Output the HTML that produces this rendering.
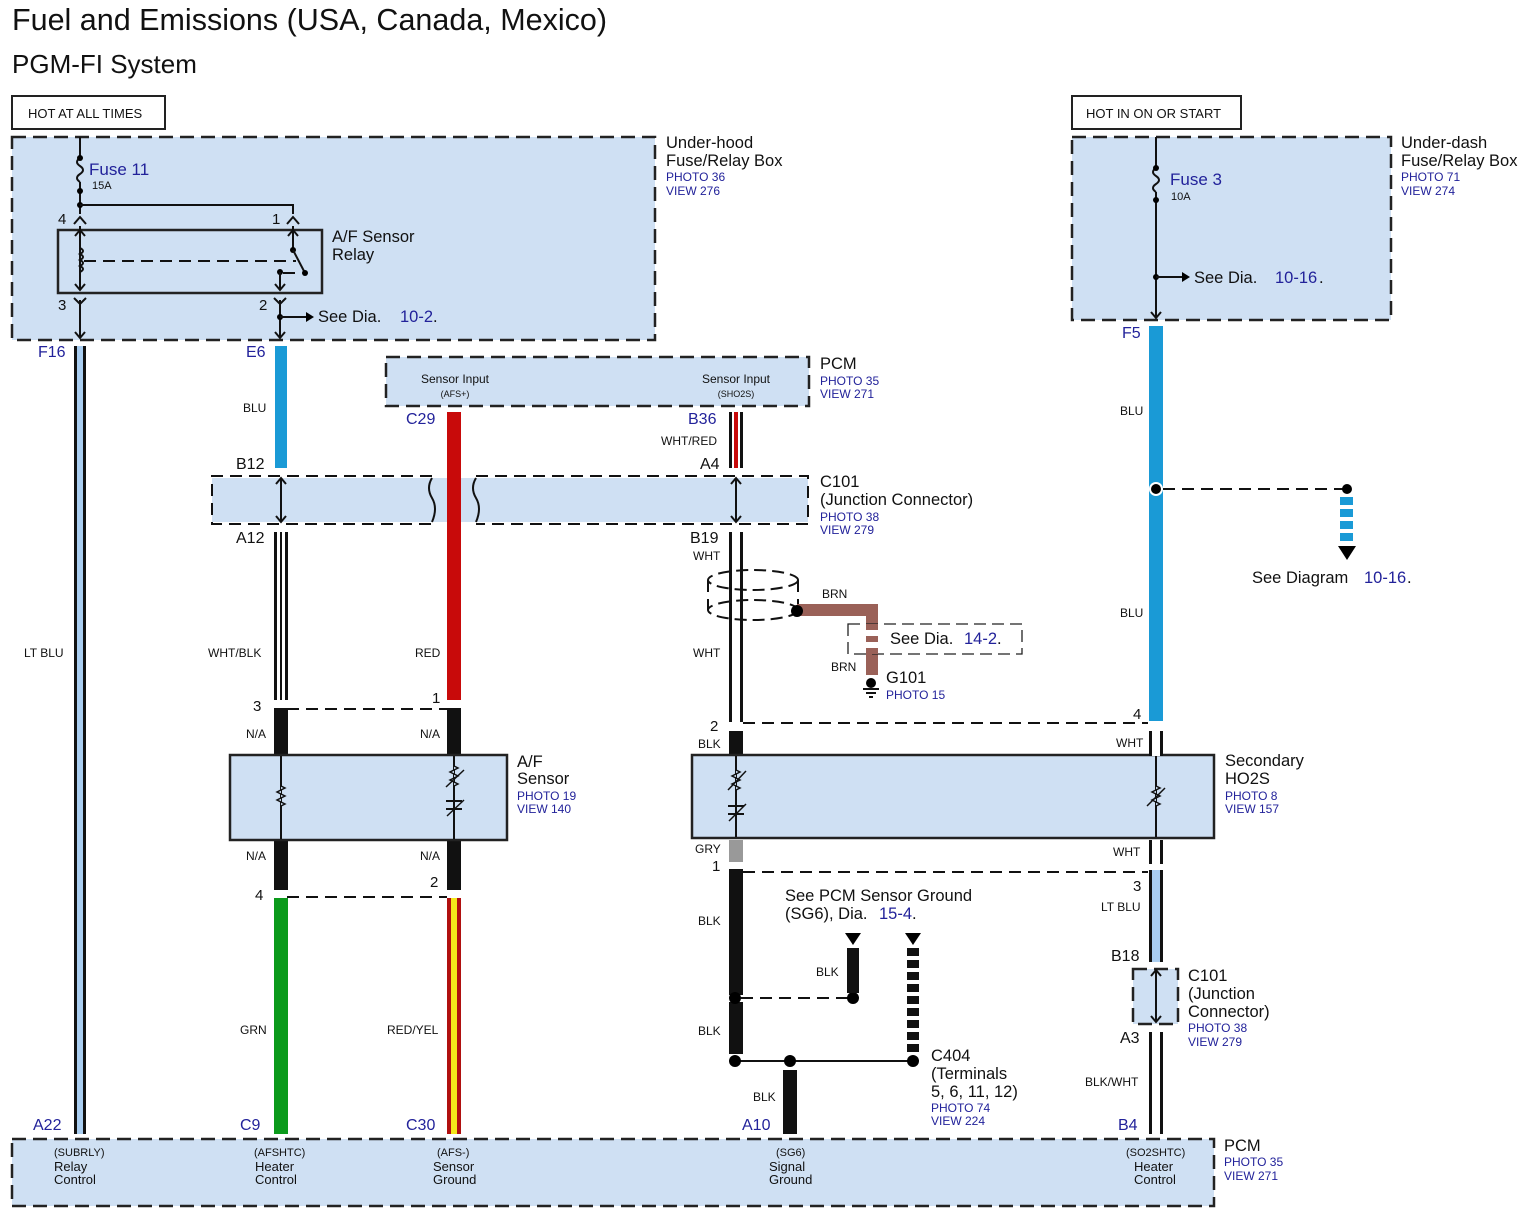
<!DOCTYPE html>
<html><head><meta charset="utf-8"><style>
html,body{margin:0;padding:0;background:#fff}
svg{display:block}
text{font-family:"Liberation Sans",Arial,sans-serif;fill:#111}
.b{fill:#22229a}
.box{fill:#cfe0f3;stroke:#222;stroke-width:2.5;stroke-dasharray:14 7}
.sbox{fill:#cfe0f3;stroke:#222;stroke-width:2.5}
.ln{stroke:#111;stroke-width:2;fill:none}
.dl{stroke:#111;stroke-width:2;fill:none;stroke-dasharray:12 7}
</style></head><body>
<svg width="1535" height="1223" viewBox="0 0 1535 1223" xmlns="http://www.w3.org/2000/svg">
<text x="12" y="30" font-size="30.5">Fuel and Emissions (USA, Canada, Mexico)</text>
<text x="12" y="73" font-size="26">PGM-FI System</text>

<rect x="12" y="96" width="153" height="33" fill="#fff" stroke="#222" stroke-width="2"/>
<text x="28" y="118" font-size="13">HOT AT ALL TIMES</text>
<rect x="1072" y="96" width="169" height="33" fill="#fff" stroke="#222" stroke-width="2"/>
<text x="1086" y="118" font-size="13">HOT IN ON OR START</text>

<rect class="box" x="12" y="137" width="643" height="203"/>
<text x="666" y="148" font-size="16.5">Under-hood</text>
<text x="666" y="166" font-size="16.5">Fuse/Relay Box</text>
<text x="666" y="181" font-size="12" class="b">PHOTO 36</text>
<text x="666" y="195" font-size="12" class="b">VIEW 276</text>
<line class="ln" x1="80" y1="137" x2="80" y2="158"/>
<path class="ln" d="M80 158 q-6 4 0 8 q6 4 0 8 q-6 4 0 8"/>
<line class="ln" x1="80" y1="182" x2="80" y2="214"/>
<circle cx="80" cy="158" r="3"/><circle cx="80" cy="191" r="3"/><circle cx="80" cy="205" r="3"/>
<text x="89" y="175" font-size="17" class="b">Fuse 11</text>
<text x="92" y="189" font-size="11">15A</text>
<polyline class="ln" points="80,205 293,205 293,214"/>
<text x="58" y="224" font-size="15">4</text><text x="272" y="224" font-size="15">1</text>
<path class="ln" d="M74 224 l6 -7 l6 7 M287 224 l6 -7 l6 7"/>
<rect x="58" y="230" width="264" height="63" fill="none" stroke="#222" stroke-width="2.5"/>
<text x="332" y="242" font-size="16.5">A/F Sensor</text><text x="332" y="260" font-size="16.5">Relay</text>
<line class="ln" x1="80" y1="226" x2="80" y2="290"/>
<path class="ln" d="M75 236 l5 -6 l5 6 M75 284 l5 6 l5 -6"/>
<path class="ln" d="M80 248 q6 3 0 6 q6 3 0 6 q6 3 0 6 q6 3 0 6"/>
<line class="dl" x1="84" y1="261" x2="296" y2="261" stroke-dasharray="9 6" stroke-width="1.3"/>
<line class="ln" x1="293" y1="226" x2="293" y2="250"/>
<path class="ln" d="M288 236 l5 -6 l5 6"/>
<circle cx="293" cy="250" r="3"/><line class="ln" x1="293" y1="250" x2="305" y2="273"/><circle cx="305" cy="273" r="3"/>
<circle cx="280" cy="272" r="3"/><line class="dl" x1="283" y1="273" x2="303" y2="273" stroke-dasharray="4 4"/>
<line class="ln" x1="280" y1="272" x2="280" y2="290"/><path class="ln" d="M275 284 l5 6 l5 -6"/>
<text x="58" y="310" font-size="15">3</text><text x="259" y="310" font-size="15">2</text>
<path class="ln" d="M74 298 l6 6 l6 -6 M274 298 l6 6 l6 -6"/>
<line class="ln" x1="80" y1="300" x2="80" y2="338"/><line class="ln" x1="280" y1="300" x2="280" y2="338"/>
<path class="ln" d="M75 332 l5 6 l5 -6 M275 332 l5 6 l5 -6"/>
<circle cx="280" cy="317" r="3"/><line class="ln" x1="280" y1="317" x2="306" y2="317"/><path d="M306 312 l8 5 l-8 5z"/>
<text x="318" y="322" font-size="16.5">See Dia.</text><text x="400" y="322" font-size="16.5" class="b">10-2</text><text x="433" y="322" font-size="16.5">.</text>

<rect class="box" x="1072" y="137" width="319" height="183"/>
<text x="1401" y="148" font-size="16.5">Under-dash</text>
<text x="1401" y="166" font-size="16.5">Fuse/Relay Box</text>
<text x="1401" y="181" font-size="12" class="b">PHOTO 71</text>
<text x="1401" y="195" font-size="12" class="b">VIEW 274</text>
<line class="ln" x1="1156" y1="137" x2="1156" y2="168"/>
<path class="ln" d="M1156 168 q-6 4 0 8 q6 4 0 8 q-6 4 0 8"/>
<line class="ln" x1="1156" y1="192" x2="1156" y2="318"/>
<circle cx="1156" cy="168" r="3"/><circle cx="1156" cy="200" r="3"/>
<text x="1170" y="185" font-size="17" class="b">Fuse 3</text><text x="1171" y="200" font-size="11">10A</text>
<circle cx="1156" cy="277" r="3"/><line class="ln" x1="1156" y1="277" x2="1182" y2="277"/><path d="M1182 272 l8 5 l-8 5z"/>
<text x="1194" y="283" font-size="16.5">See Dia.</text><text x="1275" y="283" font-size="16.5" class="b">10-16</text><text x="1319" y="283" font-size="16.5">.</text>
<path class="ln" d="M1151 312 l5 6 l5 -6"/>

<rect class="box" x="386" y="357" width="423" height="49"/>
<text x="455" y="383" font-size="12" text-anchor="middle">Sensor Input</text>
<text x="455" y="397" font-size="9" text-anchor="middle">(AFS+)</text>
<text x="736" y="383" font-size="12" text-anchor="middle">Sensor Input</text>
<text x="736" y="397" font-size="9" text-anchor="middle">(SHO2S)</text>
<text x="820" y="369" font-size="16.5">PCM</text>
<text x="820" y="385" font-size="12" class="b">PHOTO 35</text>
<text x="820" y="398" font-size="12" class="b">VIEW 271</text>

<rect x="212" y="478" width="596" height="44" fill="#cfe0f3"/>
<path class="dl" stroke-width="2.5" stroke-dasharray="14 7" d="M432 476 H212 V524 H432 M476 476 H808 V524 H476"/>
<path class="ln" d="M432 478 q-6 10 0 20 q6 10 0 24 M476 478 q-6 10 0 20 q6 10 0 24"/>
<text x="820" y="487" font-size="16.5">C101</text>
<text x="820" y="505" font-size="16.5">(Junction Connector)</text>
<text x="820" y="521" font-size="12" class="b">PHOTO 38</text>
<text x="820" y="534" font-size="12" class="b">VIEW 279</text>
<line class="ln" x1="281" y1="478" x2="281" y2="522"/><path class="ln" d="M276 484 l5 -6 l5 6 M276 516 l5 6 l5 -6"/>
<line class="ln" x1="736" y1="478" x2="736" y2="522"/><path class="ln" d="M731 484 l5 -6 l5 6 M731 516 l5 6 l5 -6"/>

<rect x="74" y="346" width="12" height="788" fill="#111"/><rect x="77" y="346" width="6" height="788" fill="#a9cdf0"/>
<text x="38" y="357" font-size="16" class="b">F16</text>
<text x="24" y="657" font-size="12">LT BLU</text>
<text x="33" y="1130" font-size="16" class="b">A22</text>

<rect x="275" y="346" width="12" height="122" fill="#1a9ad6"/>
<text x="246" y="357" font-size="16" class="b">E6</text>
<text x="243" y="412" font-size="12">BLU</text>
<text x="236" y="469" font-size="16">B12</text>
<text x="236" y="543" font-size="16">A12</text>
<rect x="274" y="532" width="14" height="168" fill="#111"/><rect x="277" y="532" width="8" height="168" fill="#fff"/><rect x="280" y="532" width="2" height="168" fill="#111"/>
<text x="208" y="657" font-size="12">WHT/BLK</text>
<rect x="274" y="708" width="14" height="48" fill="#111"/>
<text x="246" y="738" font-size="12">N/A</text>
<text x="253" y="711" font-size="15">3</text>
<rect x="274" y="840" width="14" height="50" fill="#111"/>
<text x="246" y="860" font-size="12">N/A</text>
<text x="255" y="900" font-size="15">4</text>
<rect x="274" y="898" width="14" height="236" fill="#0b9a1b"/>
<text x="240" y="1034" font-size="12">GRN</text>
<text x="240" y="1130" font-size="16" class="b">C9</text>

<rect x="447" y="412" width="14" height="288" fill="#c80a0a"/>
<text x="406" y="424" font-size="16" class="b">C29</text>
<text x="415" y="657" font-size="12">RED</text>
<text x="432" y="703" font-size="15">1</text>
<rect x="447" y="708" width="14" height="48" fill="#111"/>
<text x="420" y="738" font-size="12">N/A</text>
<rect x="447" y="840" width="14" height="50" fill="#111"/>
<text x="420" y="860" font-size="12">N/A</text>
<text x="430" y="887" font-size="15">2</text>
<rect x="447" y="898" width="14" height="236" fill="#b01010"/><rect x="451" y="898" width="6" height="236" fill="#f4e81a"/>
<text x="387" y="1034" font-size="12">RED/YEL</text>
<text x="406" y="1130" font-size="16" class="b">C30</text>
<line class="dl" x1="287" y1="709" x2="447" y2="709"/>
<line class="dl" x1="287" y1="897" x2="447" y2="897"/>

<rect class="sbox" x="230" y="755" width="277" height="85"/>
<line class="ln" x1="281" y1="756" x2="281" y2="839" stroke-width="1.5"/>
<path d="M281 786 l4 2 l-8 4 l8 4 l-8 4 l8 4 l-4 2" fill="#cfe0f3" stroke="#111" stroke-width="1.5"/>
<line class="ln" x1="454" y1="756" x2="454" y2="839" stroke-width="1.5"/>
<path d="M454 766 l4 2 l-8 4 l8 4 l-8 4 l8 4 l-4 2" fill="#cfe0f3" stroke="#111" stroke-width="1.5"/>
<line x1="446" y1="787" x2="464" y2="770" stroke="#111" stroke-width="1.5"/>
<line x1="446" y1="801" x2="462" y2="801" stroke="#111" stroke-width="2"/><line x1="446" y1="809" x2="462" y2="809" stroke="#111" stroke-width="2"/>
<line x1="447" y1="816" x2="464" y2="800" stroke="#111" stroke-width="1.5"/>
<text x="517" y="767" font-size="16.5">A/F</text><text x="517" y="784" font-size="16.5">Sensor</text>
<text x="517" y="800" font-size="12" class="b">PHOTO 19</text><text x="517" y="813" font-size="12" class="b">VIEW 140</text>

<rect x="729" y="412" width="14" height="56" fill="#111"/><rect x="732" y="412" width="8" height="56" fill="#fff"/><rect x="734" y="412" width="4" height="56" fill="#c80a0a"/>
<text x="688" y="424" font-size="16" class="b">B36</text>
<text x="661" y="445" font-size="12">WHT/RED</text>
<text x="700" y="469" font-size="16">A4</text>
<text x="690" y="543" font-size="16">B19</text>
<rect x="729" y="532" width="14" height="190" fill="#111"/><rect x="732" y="532" width="8" height="190" fill="#fff"/>
<text x="693" y="560" font-size="12">WHT</text>
<text x="693" y="657" font-size="12">WHT</text>
<ellipse cx="753" cy="580" rx="45" ry="10" fill="none" stroke="#111" stroke-width="2" stroke-dasharray="12 6"/>
<ellipse cx="753" cy="610" rx="45" ry="10" fill="none" stroke="#111" stroke-width="2" stroke-dasharray="12 6"/>
<line class="dl" x1="708" y1="580" x2="708" y2="610"/><line class="dl" x1="798" y1="580" x2="798" y2="610"/>
<path d="M797 610 H872 V675" fill="none" stroke="#9a6158" stroke-width="12"/>
<circle cx="797" cy="611" r="6"/>
<rect x="848" y="624" width="174" height="30" fill="#fff" stroke="#222" stroke-width="1.3" stroke-dasharray="12 6"/>
<rect x="866" y="624" width="12" height="30" fill="#9a6158"/><rect x="866" y="630" width="12" height="6" fill="#fff"/><rect x="866" y="642" width="12" height="6" fill="#fff"/>
<text x="890" y="644" font-size="16.5">See Dia.</text><text x="964" y="644" font-size="16.5" class="b">14-2</text><text x="997" y="644" font-size="16.5">.</text>
<text x="822" y="598" font-size="12">BRN</text><text x="831" y="671" font-size="12">BRN</text>
<circle cx="871" cy="683" r="5"/><path class="ln" stroke-width="1.5" d="M863 689 h16 M866 693 h10 M869 697 h4"/>
<text x="886" y="683" font-size="16.5">G101</text><text x="886" y="699" font-size="12" class="b">PHOTO 15</text>
<text x="710" y="731" font-size="15">2</text>
<line class="dl" x1="743" y1="723" x2="1148" y2="723"/>
<rect x="729" y="731" width="14" height="25" fill="#111"/>
<text x="698" y="748" font-size="12">BLK</text>
<rect x="729" y="840" width="14" height="22" fill="#999"/>
<text x="695" y="853" font-size="12">GRY</text>
<text x="712" y="871" font-size="15">1</text>
<line class="dl" x1="743" y1="872" x2="1148" y2="872"/>
<rect x="729" y="869" width="14" height="126" fill="#111"/>
<rect x="729" y="1002" width="14" height="52" fill="#111"/>
<text x="698" y="925" font-size="12">BLK</text><text x="698" y="1035" font-size="12">BLK</text>
<circle cx="735" cy="998" r="6"/><line class="dl" x1="741" y1="998" x2="853" y2="998"/><circle cx="853" cy="998" r="6"/>
<rect x="847" y="948" width="12" height="45" fill="#111"/><path d="M845 933 h16 l-8 12z"/>
<text x="816" y="976" font-size="12">BLK</text>
<path d="M905 933 h16 l-8 12z"/>
<g fill="#111"><rect x="907" y="948" width="12" height="8"/><rect x="907" y="960" width="12" height="8"/><rect x="907" y="972" width="12" height="8"/><rect x="907" y="984" width="12" height="8"/><rect x="907" y="996" width="12" height="8"/><rect x="907" y="1008" width="12" height="8"/><rect x="907" y="1020" width="12" height="8"/><rect x="907" y="1032" width="12" height="8"/><rect x="907" y="1044" width="12" height="8"/></g>
<text x="785" y="901" font-size="16.5">See PCM Sensor Ground</text>
<text x="785" y="919" font-size="16.5">(SG6), Dia.</text><text x="879" y="919" font-size="16.5" class="b">15-4</text><text x="912" y="919" font-size="16.5">.</text>
<line class="ln" x1="735" y1="1061" x2="913" y2="1061"/>
<circle cx="735" cy="1061" r="6"/><circle cx="790" cy="1061" r="6"/><circle cx="913" cy="1061" r="6"/>
<rect x="783" y="1070" width="14" height="64" fill="#111"/>
<text x="753" y="1101" font-size="12">BLK</text>
<text x="742" y="1130" font-size="16" class="b">A10</text>
<text x="931" y="1061" font-size="16.5">C404</text><text x="931" y="1079" font-size="16.5">(Terminals</text><text x="931" y="1097" font-size="16.5">5, 6, 11, 12)</text>
<text x="931" y="1112" font-size="12" class="b">PHOTO 74</text><text x="931" y="1125" font-size="12" class="b">VIEW 224</text>

<rect class="sbox" x="692" y="755" width="522" height="83"/>
<line class="ln" x1="736" y1="756" x2="736" y2="837" stroke-width="1.5"/>
<path d="M736 770 l4 2 l-8 4 l8 4 l-8 4 l8 4 l-4 2" fill="#cfe0f3" stroke="#111" stroke-width="1.5"/>
<line x1="728" y1="790" x2="746" y2="771" stroke="#111" stroke-width="1.5"/>
<line x1="728" y1="806" x2="744" y2="806" stroke="#111" stroke-width="2"/><line x1="728" y1="814" x2="744" y2="814" stroke="#111" stroke-width="2"/>
<line x1="729" y1="821" x2="746" y2="804" stroke="#111" stroke-width="1.5"/>
<line class="ln" x1="1156" y1="756" x2="1156" y2="837" stroke-width="1.5"/>
<path d="M1156 786 l4 2 l-8 4 l8 4 l-8 4 l8 4 l-4 2" fill="#cfe0f3" stroke="#111" stroke-width="1.5"/>
<line x1="1147" y1="806" x2="1165" y2="788" stroke="#111" stroke-width="1.5"/>
<text x="1225" y="766" font-size="16.5">Secondary</text><text x="1225" y="784" font-size="16.5">HO2S</text>
<text x="1225" y="800" font-size="12" class="b">PHOTO 8</text><text x="1225" y="813" font-size="12" class="b">VIEW 157</text>

<rect x="1149" y="326" width="14" height="395" fill="#1a9ad6"/>
<text x="1122" y="338" font-size="16" class="b">F5</text>
<text x="1120" y="415" font-size="12">BLU</text><text x="1120" y="617" font-size="12">BLU</text>
<circle cx="1156" cy="489" r="7" fill="#fff"/><circle cx="1156" cy="489" r="5"/>
<line class="dl" x1="1163" y1="489" x2="1345" y2="489"/><circle cx="1347" cy="489" r="5"/>
<g fill="#1a9ad6"><rect x="1340" y="497" width="13" height="8"/><rect x="1340" y="509" width="13" height="8"/><rect x="1340" y="521" width="13" height="8"/><rect x="1340" y="533" width="13" height="8"/></g>
<path d="M1338 546 h18 l-9 14z"/>
<text x="1252" y="583" font-size="16.5">See Diagram</text><text x="1364" y="583" font-size="16.5" class="b">10-16</text><text x="1407" y="583" font-size="16.5">.</text>
<text x="1133" y="719" font-size="15">4</text>
<rect x="1149" y="731" width="14" height="25" fill="#111"/><rect x="1152" y="731" width="8" height="25" fill="#fff"/>
<text x="1116" y="747" font-size="12">WHT</text>
<rect x="1149" y="840" width="14" height="24" fill="#111"/><rect x="1152" y="840" width="8" height="24" fill="#fff"/>
<text x="1113" y="856" font-size="12">WHT</text>
<rect x="1149" y="870" width="14" height="92" fill="#111"/><rect x="1152" y="870" width="8" height="92" fill="#a9cdf0"/>
<text x="1133" y="891" font-size="15">3</text>
<text x="1101" y="911" font-size="12">LT BLU</text>
<text x="1111" y="961" font-size="16">B18</text>
<rect class="box" x="1133" y="969" width="45" height="55"/>
<line class="ln" x1="1156" y1="970" x2="1156" y2="1022" stroke-width="1.5"/><path class="ln" stroke-width="1.5" d="M1151 976 l5 -6 l5 6 M1151 1016 l5 6 l5 -6"/>
<text x="1188" y="981" font-size="16.5">C101</text><text x="1188" y="999" font-size="16.5">(Junction</text><text x="1188" y="1017" font-size="16.5">Connector)</text>
<text x="1188" y="1032" font-size="12" class="b">PHOTO 38</text><text x="1188" y="1046" font-size="12" class="b">VIEW 279</text>
<text x="1120" y="1043" font-size="16">A3</text>
<rect x="1149" y="1032" width="14" height="102" fill="#111"/><rect x="1152" y="1032" width="8" height="102" fill="#fff"/>
<text x="1085" y="1086" font-size="12">BLK/WHT</text>
<text x="1118" y="1130" font-size="16" class="b">B4</text>

<rect class="box" x="12" y="1139" width="1202" height="67"/>
<g font-size="11">
<text x="54" y="1156">(SUBRLY)</text><text x="54" y="1171" font-size="13">Relay</text><text x="54" y="1184" font-size="13">Control</text>
<text x="254" y="1156">(AFSHTC)</text><text x="255" y="1171" font-size="13">Heater</text><text x="255" y="1184" font-size="13">Control</text>
<text x="437" y="1156">(AFS-)</text><text x="433" y="1171" font-size="13">Sensor</text><text x="433" y="1184" font-size="13">Ground</text>
<text x="776" y="1156">(SG6)</text><text x="769" y="1171" font-size="13">Signal</text><text x="769" y="1184" font-size="13">Ground</text>
<text x="1126" y="1156">(SO2SHTC)</text><text x="1134" y="1171" font-size="13">Heater</text><text x="1134" y="1184" font-size="13">Control</text>
</g>
<text x="1224" y="1151" font-size="16.5">PCM</text>
<text x="1224" y="1166" font-size="12" class="b">PHOTO 35</text><text x="1224" y="1180" font-size="12" class="b">VIEW 271</text>
</svg>
</body></html>
